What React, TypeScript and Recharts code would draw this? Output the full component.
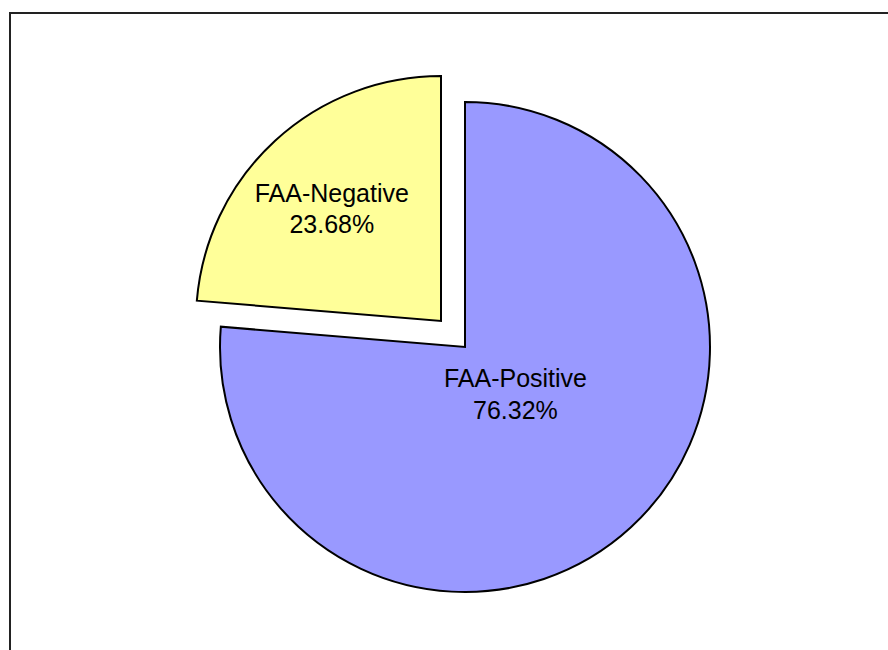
import { PieChart, Pie, Cell } from "recharts";

const categories = ["FAA-Positive", "FAA-Negative"];
const shares = [76.32, 23.68];
const colors = ["#9999FF", "#FFFF99"];

// label placement inside each slice: fraction of radius, plus a small pixel nudge
const labelDepth = [0.28, 0.64];
const labelNudge = [
  [4, -2],
  [-3, 4],
];

const data = categories.map((name, i) => ({ name, value: shares[i] }));

const RADIAN = Math.PI / 180;

function makeLabel(visible: number) {
  return function SliceLabel(props: any) {
    const { cx, cy, midAngle, outerRadius, index, percent } = props;
    if (index !== visible) return <g />;
    const r = outerRadius * labelDepth[index];
    const x = cx + r * Math.cos(-midAngle * RADIAN) + labelNudge[index][0];
    const y = cy + r * Math.sin(-midAngle * RADIAN) + labelNudge[index][1];
    return (
      <text
        x={x}
        y={y}
        textAnchor="middle"
        fill="#000"
        fontSize={25}
        fontFamily="Liberation Sans, Arial, sans-serif"
      >
        <tspan x={x} dy={-8}>
          {categories[index]}
        </tspan>
        <tspan x={x} dy={31.5}>
          {`${(percent * 100).toFixed(2)}%`}
        </tspan>
      </text>
    );
  };
}

export default function App() {
  return (
    <div
      style={{
        position: "absolute",
        left: 0,
        top: 0,
        width: 888,
        height: 650,
        overflow: "hidden",
        background: "#fff",
      }}
    >
      <div
        style={{
          position: "absolute",
          left: 9,
          top: 12,
          width: 920,
          height: 700,
          border: "2px solid #222",
        }}
      />
      <div style={{ position: "absolute", left: 0, top: 0 }}>
        <PieChart width={888} height={650} margin={{ top: 0, right: 0, bottom: 0, left: 0 }}>
          {/* main pie: only the positive slice is painted */}
          <Pie
            data={data}
            dataKey="value"
            nameKey="name"
            cx={465}
            cy={347}
            outerRadius={245}
            startAngle={90}
            endAngle={-270}
            stroke="#000"
            strokeWidth={2}
            labelLine={false}
            label={makeLabel(0)}
            isAnimationActive={false}
          >
            {data.map((d, i) => (
              <Cell
                key={d.name}
                fill={i === 0 ? colors[0] : "none"}
                stroke={i === 0 ? "#000" : "none"}
              />
            ))}
          </Pie>
          {/* exploded negative slice */}
          <Pie
            data={data}
            dataKey="value"
            nameKey="name"
            cx={441}
            cy={321}
            outerRadius={245}
            startAngle={90}
            endAngle={-270}
            stroke="#000"
            strokeWidth={2}
            labelLine={false}
            label={makeLabel(1)}
            isAnimationActive={false}
          >
            {data.map((d, i) => (
              <Cell
                key={d.name}
                fill={i === 1 ? colors[1] : "none"}
                stroke={i === 1 ? "#000" : "none"}
              />
            ))}
          </Pie>
        </PieChart>
      </div>
    </div>
  );
}
